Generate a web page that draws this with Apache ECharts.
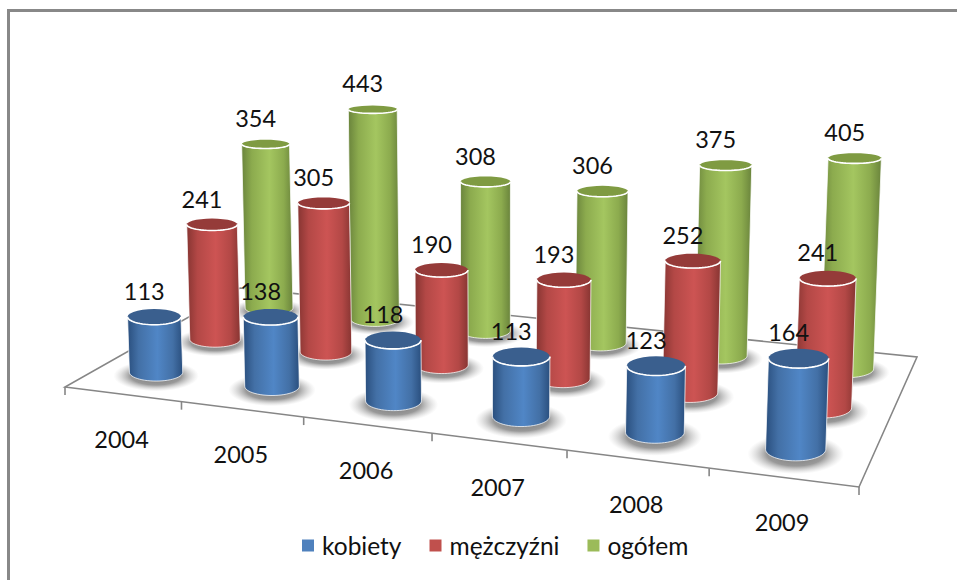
<!DOCTYPE html>
<html>
<head>
<meta charset="utf-8">
<style>html,body{margin:0;padding:0;background:#fff}#c{width:957px;height:580px}</style>
<script src="https://cdn.jsdelivr.net/npm/echarts@6/dist/echarts.min.js"></script>
</head>
<body>
<div id="c"></div>
<script>
const years = ['2004','2005','2006','2007','2008','2009'];
const kobiety = [113,138,118,113,123,164];
const mezczyzni = [241,305,190,193,252,241];
const ogolem = [354,443,308,306,375,405];

const FONT = 'Lato';
// Perspective of the floor: corners front-left, front-right, back-right, back-left
const C = [[65,387],[859,487],[917,357],[240,288]];
const depth = [0.19, 0.5, 0.83];
const nudge = [-3, 1.5, 3.5];
const dx1=C[1][0]-C[2][0], dx2=C[3][0]-C[2][0], sx=C[0][0]-C[1][0]+C[2][0]-C[3][0];
const dy1=C[1][1]-C[2][1], dy2=C[3][1]-C[2][1], sy=C[0][1]-C[1][1]+C[2][1]-C[3][1];
const den=dx1*dy2-dx2*dy1;
const g=(sx*dy2-dx2*sy)/den, h=(dx1*sy-sx*dy1)/den;
const a=C[1][0]-C[0][0]+g*C[1][0], b=C[3][0]-C[0][0]+h*C[3][0];
const d=C[1][1]-C[0][1]+g*C[1][1], e=C[3][1]-C[0][1]+h*C[3][1];
function proj(u,v){const w=g*u+h*v+1;return [(a*u+b*v+C[0][0])/w,(d*u+e*v+C[0][1])/w];}
function heightScale(u,v){return 0.986/(g*u+0.5*h*v+1);}
function radius(u,v){return 27.3/(g*u+h*v+1);}
function ratio(y){return 0.09+0.00065*y;}
function arc(cx,cy,rx,ry,a0,a1){const p=[];const n=28;for(let i=0;i<=n;i++){const t=a0+(a1-a0)*i/n;p.push([cx+rx*Math.cos(t),cy+ry*Math.sin(t)]);}return p;}

function geometry(api,params,idx){
  const cs=params.coordSys, depthV=depth[idx];
  const i=api.value(0), val=api.value(1);
  const u=(api.coord([i,0])[0]-cs.x)/cs.width;
  const pb=proj(u,depthV);
  const bx=pb[0]+nudge[idx], by=pb[1];
  const H=(api.coord([i,0])[1]-api.coord([i,val])[1])*heightScale(u,depthV);
  const tx=bx+(bx-480)*H*1e-4, ty=by-H;
  const r=radius(u,depthV);
  return {bx,by,tx,ty,rb:r,rt:r,ryb:r*ratio(by),ryt:r*ratio(ty)};
}

function cylinder(idx,pal){
  return function(params,api){
    const q=geometry(api,params,idx);
    const body=arc(q.bx,q.by,q.rb,q.ryb,Math.PI,0).concat(arc(q.tx,q.ty,q.rt,q.ryt,0,Math.PI));
    const sr=q.rb*1.6, sy2=q.ryb*1.75/sr;
    return {type:'group',children:[
      {type:'circle',x:q.bx,y:q.by+q.ryb*0.4,scaleX:1,scaleY:sy2,shape:{cx:0,cy:0,r:sr},
       style:{fill:{type:'radial',x:0.5,y:0.5,r:0.5,colorStops:[{offset:0,color:'rgba(80,80,80,0.8)'},{offset:0.6,color:'rgba(90,90,90,0.62)'},{offset:1,color:'rgba(170,170,170,0)'}]}}},
      {type:'polygon',shape:{points:body},
       style:{stroke:'rgba(255,255,255,0.75)',lineWidth:1,
        fill:{type:'linear',x:0,y:0,x2:1,y2:0,colorStops:[{offset:0,color:pal[0]},{offset:0.2,color:pal[1]},{offset:0.54,color:pal[2]},{offset:0.82,color:pal[1]},{offset:1,color:pal[0]}]}}},
      {type:'polygon',shape:{points:arc(q.tx,q.ty,q.rt,q.ryt,0,2*Math.PI)},style:{fill:pal[3]}},
      {type:'polyline',shape:{points:arc(q.tx,q.ty,q.rt,q.ryt,0,Math.PI)},style:{fill:null,stroke:'#fff',lineWidth:1.6}}
    ]};
  };
}

function renderFloor(params,api){
  const n=years.length, gray='#868686';
  const corners=[proj(0,0),proj(1,0),proj(1,1),proj(0,1)];
  const kids=[{type:'polygon',shape:{points:corners},style:{fill:'#fff',stroke:gray,lineWidth:1.6}}];
  for(let k=0;k<=n;k++){
    const p=proj(k/n,0);
    kids.push({type:'line',shape:{x1:p[0],y1:p[1],x2:p[0],y2:p[1]+8},style:{stroke:gray,lineWidth:1.6}});
  }
  return {type:'group',children:kids};
}
function renderYear(params,api){
  const cs=params.coordSys,i=api.value(0);
  const u=(api.coord([i,0])[0]-cs.x)/cs.width;
  const p=proj(u,0);
  return {type:'text',x:p[0]-1,y:p[1]+45,style:{text:years[i],fill:'#111',font:'23.5px '+FONT,textAlign:'center',verticalAlign:'middle'}};
}
function renderValue(params,api){
  const q=geometry(api,params,api.value(2));
  return {type:'text',x:q.tx-10,y:q.ty-26,style:{text:String(api.value(1)),fill:'#111',font:'23.5px '+FONT,textAlign:'center',verticalAlign:'middle'}};
}

const names=['kobiety','mężczyźni','ogółem'];
const colors=['#4f81bd','#c0504d','#9bbb59'];
const palettes=[
  ['#2a4f7e','#4370a6','#5086c6','#3a5f8e'],
  ['#873532','#b34846','#cd5453','#953b39'],
  ['#6a843c','#8cab4e','#a4c660','#7f9b42']
];
const valueRows=[];
[kobiety,mezczyzni,ogolem].forEach((arr,s)=>arr.forEach((v,i)=>valueRows.push([i,v,s])));

const chart=echarts.init(document.getElementById('c'),null,{renderer:'svg',width:957,height:580});
chart.setOption({
  animation:false,
  backgroundColor:'#fff',
  textStyle:{fontFamily:FONT},
  grid:{left:65,top:30,width:780,height:250},
  xAxis:{type:'category',data:years,show:false},
  yAxis:{type:'value',min:0,max:500,show:false},
  legend:{left:297,top:528,itemWidth:12,itemHeight:12,itemGap:28,icon:'rect',
    data:names,selectedMode:false,
    textStyle:{fontFamily:FONT,fontSize:24.5,color:'#111',padding:[0,0,0,3]}},
  graphic:[
    {type:'rect',left:7,top:9,shape:{width:950,height:3},style:{fill:'#888'},silent:true},
    {type:'rect',left:7,top:9,shape:{width:3,height:571},style:{fill:'#888'},silent:true}
  ],
  series:[
    {type:'custom',name:'podłoga',z:1,silent:true,clip:false,renderItem:renderFloor,data:[[0,0]],encode:{x:0,y:1}},
    {type:'custom',name:names[2],z:2,clip:false,itemStyle:{color:colors[2]},renderItem:cylinder(2,palettes[2]),data:ogolem.map((v,i)=>[i,v]),encode:{x:0,y:1}},
    {type:'custom',name:names[1],z:3,clip:false,itemStyle:{color:colors[1]},renderItem:cylinder(1,palettes[1]),data:mezczyzni.map((v,i)=>[i,v]),encode:{x:0,y:1}},
    {type:'custom',name:names[0],z:4,clip:false,itemStyle:{color:colors[0]},renderItem:cylinder(0,palettes[0]),data:kobiety.map((v,i)=>[i,v]),encode:{x:0,y:1}},
    {type:'custom',name:'wartości',z:5,silent:true,clip:false,renderItem:renderValue,data:valueRows,encode:{x:0,y:1}},
    {type:'custom',name:'lata',z:5,silent:true,clip:false,renderItem:renderYear,data:years.map((y,i)=>[i,0]),encode:{x:0,y:1}}
  ]
});
</script>
</body>
</html>
